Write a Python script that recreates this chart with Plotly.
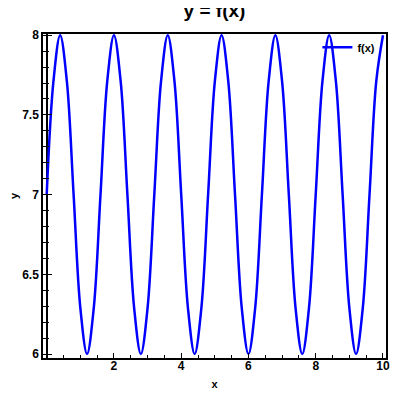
import plotly.graph_objects as go

# Sample points (every 0.2 in x)
x_vals = [0.0, 0.2, 0.4, 0.6, 0.8, 1.0, 1.2, 1.4, 1.6, 1.8,
          2.0, 2.2, 2.4, 2.6, 2.8, 3.0, 3.2, 3.4, 3.6, 3.8,
          4.0, 4.2, 4.4, 4.6, 4.8, 5.0, 5.2, 5.4, 5.6, 5.8,
          6.0, 6.2, 6.4, 6.6, 6.8, 7.0, 7.2, 7.4, 7.6, 7.8,
          8.0, 8.2, 8.4, 8.6, 8.8, 9.0, 9.2, 9.4, 9.6, 9.8,
          10.0]
y_vals = [7.0, 7.71, 8.0, 7.71, 7.0, 6.29, 6.0, 6.29,
          7.0, 7.71, 8.0, 7.71, 7.0, 6.29, 6.0, 6.29,
          7.0, 7.71, 8.0, 7.71, 7.0, 6.29, 6.0, 6.29,
          7.0, 7.71, 8.0, 7.71, 7.0, 6.29, 6.0, 6.29,
          7.0, 7.71, 8.0, 7.71, 7.0, 6.29, 6.0, 6.29,
          7.0, 7.71, 8.0, 7.71, 7.0, 6.29, 6.0, 6.29,
          7.0, 7.71, 8.0]
series_name = "f(x)"
title_text = "y = f(x)"
x_label = "x"
y_label = "y"

FONT = "Liberation Sans, Arial, sans-serif"

fig = go.Figure()
fig.add_trace(go.Scatter(
    x=x_vals, y=y_vals, mode="lines", name=series_name,
    line=dict(color="#0000ff", width=2.5, shape="spline", smoothing=1.0),
))

fig.update_layout(
    width=400, height=400,
    margin=dict(l=35, r=22, t=26, b=50, autoexpand=False),
    paper_bgcolor="white", plot_bgcolor="white",
    font=dict(family=FONT, color="black"),
    title=dict(text=title_text, x=0.5, xref="paper", xanchor="center",
               y=0.977, yref="container", yanchor="bottom",
               font=dict(size=19, weight="bold", family=FONT, color="black")),
    showlegend=True,
    legend=dict(x=0.80, xanchor="left", y=1.004, yanchor="top",
                bgcolor="rgba(0,0,0,0)", borderwidth=0,
                font=dict(size=11, weight="bold", family=FONT), valign="middle"),
)

fig.update_xaxes(
    range=[-0.11, 10.09], showgrid=False, automargin=False,
    showline=True, linecolor="black", linewidth=1.5, mirror=True,
    zeroline=True, zerolinecolor="black", zerolinewidth=1.5,
    tickmode="array", tickvals=[2, 4, 6, 8, 10], ticktext=["2", "4", "6", "8", "10"],
    ticks="inside", ticklen=5, tickwidth=1.3, tickcolor="black",
    minor=dict(dtick=0.5, tick0=0, ticks="inside", ticklen=3, tickwidth=1.2, tickcolor="black", showgrid=False),
    tickfont=dict(size=12, weight="bold", family=FONT),
    ticklabelstandoff=-4,
    title=dict(text=x_label, font=dict(size=11, weight="bold", family=FONT), standoff=8),
)
fig.update_yaxes(
    range=[5.975, 8.0075], showgrid=False, automargin=False,
    showline=True, linecolor="black", linewidth=1.5, mirror=True,
    zeroline=False,
    tickmode="array", tickvals=[6, 6.5, 7, 7.5, 8], ticktext=["6", "6.5", "7", "7.5", "8"],
    ticks="inside", ticklen=9, tickwidth=1.3, tickcolor="black",
    minor=dict(dtick=0.1, tick0=6, ticks="inside", ticklen=6, tickwidth=1.2, tickcolor="black", showgrid=False),
    tickfont=dict(size=12, weight="bold", family=FONT),
    title=dict(text=y_label, font=dict(size=11, weight="bold", family=FONT), standoff=8),
)

fig.write_html("out.html")
